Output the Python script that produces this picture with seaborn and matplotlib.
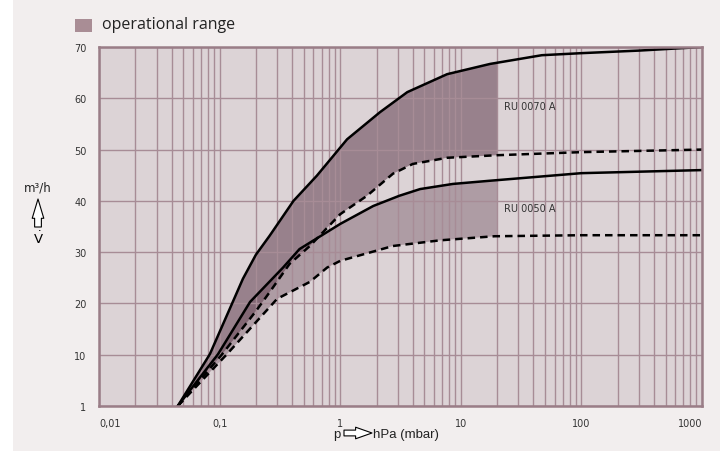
"""
Pumping speed curves RU 0070 A / RU 0050 A with operational range
"""

import numpy as np
import pandas as pd
import matplotlib
matplotlib.use("Agg")
import matplotlib.pyplot as plt
from matplotlib.patches import Rectangle
from matplotlib.ticker import FixedLocator, NullFormatter
import seaborn as sns

# Data (x in hPa, y in m3/h)
ru70_max_p = [0.045, 0.083, 0.127, 0.156, 0.2, 0.26, 0.41, 0.64, 1.14, 2.14, 3.6, 7.7, 17.5, 47, 100, 300, 1000]
ru70_max_s = [0, 10.1, 20, 24.8, 29.5, 33.2, 40, 44.9, 52, 57.3, 61.2, 64.7, 66.7, 68.4, 68.8, 69.3, 70]

ru70_min_p = [0.045, 0.105, 0.2, 0.26, 0.38, 0.56, 1.0, 1.67, 2.74, 4.0, 7.7, 20, 100, 1000]
ru70_min_s = [0, 10.1, 18.5, 22.2, 27.7, 31.2, 37.4, 41, 45.3, 47.2, 48.4, 48.9, 49.5, 50]

ru50_max_p = [0.045, 0.097, 0.179, 0.336, 0.46, 1.0, 1.88, 3.1, 4.6, 8.6, 17, 100, 1000]
ru50_max_s = [0, 10.1, 20.3, 27, 30.6, 35.5, 39, 41, 42.3, 43.3, 43.9, 45.4, 46]

ru50_min_p = [0.045, 0.115, 0.3, 0.56, 0.78, 1.0, 2.74, 6.7, 19, 100, 1000]
ru50_min_s = [0, 10.1, 20.9, 24.2, 27, 28.3, 31.2, 32.3, 33.1, 33.3, 33.3]

range_end = 20  # operational range ends at 20 hPa

x_ticks = [0.01, 0.1, 1, 10, 100, 1000]
x_labels = ["0,01", "0,1", "1", "10", "100", "1000"]
y_ticks = [0, 10, 20, 30, 40, 50, 60, 70]
y_labels = ["1", "10", "20", "30", "40", "50", "60", "70"]

BG = "#f2eeee"
PLOT_BG = "#dcd3d6"
GRID = "#a78c96"
SPINE = "#9a7d87"
FILL = "#5a3748"
H = 452  # figure height in pixels


def clip_curve(p, s, end):
    """curve points up to the end of the operational range (log interpolation at the edge)"""
    p = np.asarray(p, float)
    s = np.asarray(s, float)
    keep = p < end
    s_end = np.interp(np.log10(end), np.log10(p), s)
    return np.append(p[keep], end), np.append(s[keep], s_end)


def hollow_arrow(fig, start, end, head_w, head_l, tail_w):
    """white block arrow between two points given in figure pixels (from top-left)"""
    fig.add_artist(matplotlib.patches.FancyArrowPatch(
        (start[0], H - start[1]), (end[0], H - end[1]), transform=None,
        arrowstyle=f"simple,head_width={head_w},head_length={head_l},tail_width={tail_w}",
        mutation_scale=10 * 100 / 72, facecolor="white", edgecolor="black", lw=0.8,
        shrinkA=0, shrinkB=0))


sns.set_theme(style="white")
plt.rcParams["font.family"] = ["DejaVu Sans"]

fig = plt.figure(figsize=(7.2, 4.52), dpi=100, facecolor=BG)
fig.patches.append(Rectangle((0, 0), 13 / 720, 1, transform=fig.transFigure,
                             facecolor="white", edgecolor="none", zorder=0))
ax = fig.add_axes([99 / 720, 1 - 407 / H, 603 / 720, 359 / H])
ax.set_facecolor(PLOT_BG)

# operational ranges
for (pu, su), (pl, sl), alpha in [((ru70_max_p, ru70_max_s), (ru70_min_p, ru70_min_s), 0.52),
                                  ((ru50_max_p, ru50_max_s), (ru50_min_p, ru50_min_s), 0.35)]:
    xu, yu = clip_curve(pu, su, range_end)
    xl, yl = clip_curve(pl, sl, range_end)
    ax.fill(np.concatenate([xu, xl[::-1]]), np.concatenate([yu, yl[::-1]]),
            color=FILL, alpha=alpha, lw=0, zorder=1)

# curves
curves = [
    (ru70_max_p, ru70_max_s, "-"),
    (ru70_min_p, ru70_min_s, (0, (3, 2))),
    (ru50_max_p, ru50_max_s, "-"),
    (ru50_min_p, ru50_min_s, (0, (3, 2))),
]
for p, s, ls in curves:
    df = pd.DataFrame({"p": p, "s": s})
    sns.lineplot(data=df, x="p", y="s", ax=ax, color="black", lw=1.8,
                 linestyle=ls, sort=False, estimator=None, zorder=4)

ax.set_xscale("log")
ax.set_xlim(0.01, 1000)
ax.set_ylim(0, 70)
ax.set_xlabel("")
ax.set_ylabel("")

ax.xaxis.set_minor_locator(FixedLocator(
    [m * 10.0 ** e for e in range(-2, 3) for m in range(2, 10)]))
ax.xaxis.set_minor_formatter(NullFormatter())
ax.set_xticks(x_ticks, x_labels)
ax.set_yticks(y_ticks, y_labels)
ax.tick_params(axis="both", which="both", length=0, labelsize=7, colors="#333333")
ax.tick_params(axis="x", pad=9)
ax.tick_params(axis="y", pad=9)
ax.get_xticklabels()[0].set_ha("left")
ax.get_xticklabels()[-1].set_ha("right")

ax.grid(which="both", axis="x", color=GRID, lw=1.0, zorder=2)
ax.grid(which="major", axis="y", color=GRID, lw=1.0, zorder=2)
ax.set_axisbelow(False)
for sp in ax.spines.values():
    sp.set_color(SPINE)
    sp.set_linewidth(1.8)
    sp.set_zorder(5)

# curve labels
ax.text(23, 58.5, "RU 0070 A", fontsize=7, color="#333333", va="center", zorder=6)
ax.text(23, 38.6, "RU 0050 A", fontsize=7, color="#333333", va="center", zorder=6)

# legend
fig.patches.append(Rectangle((75 / 720, 1 - 33 / H), 17 / 720, 13 / H,
                             transform=fig.transFigure, facecolor="#a98d95",
                             edgecolor="none"))
fig.text(102 / 720, 1 - 29 / H, "operational range", fontsize=11.5,
         family=["Open Sans", "DejaVu Sans"], color="#222222", va="baseline")

# y axis label with hollow arrow
fig.text(38 / 720, 1 - 188 / H, "m³/h", fontsize=8.5, ha="center", va="center",
         color="#222222")
hollow_arrow(fig, (38, 228), (38, 200), head_w=0.6, head_l=1.0, tail_w=0.35)
fig.text(38 / 720, 1 - 239 / H, r"$\dot{\mathrm{V}}$", fontsize=9.5, ha="center",
         va="center", color="black")

# x axis label with hollow arrow
fig.text(337 / 720, 1 - 438 / H, "p", fontsize=9.5, ha="center", va="baseline",
         family=["Liberation Sans", "DejaVu Sans"], color="#222222")
hollow_arrow(fig, (344, 434), (372, 434), head_w=0.6, head_l=0.85, tail_w=0.3)
fig.text(373 / 720, 1 - 438 / H, "hPa (mbar)", fontsize=9.5, ha="left", va="baseline",
         family=["Liberation Sans", "DejaVu Sans"], color="#222222")

fig.savefig("out.png", dpi=100, facecolor=BG)
